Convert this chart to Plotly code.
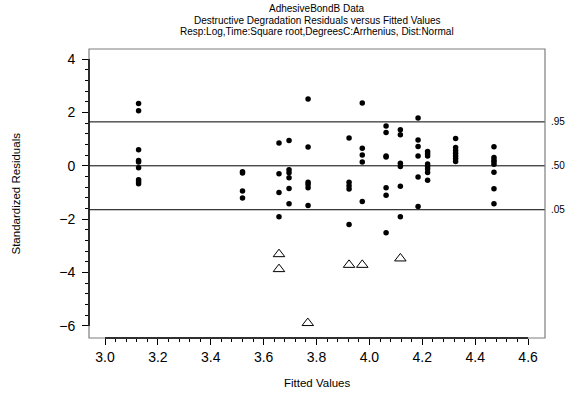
import plotly.graph_objects as go

# Exact (uncensored) residuals: fitted value, standardized residual
fit_exact = (
    [3.127] * 9 + [3.52] * 4 + [3.658] * 4 + [3.696] * 6 + [3.768] * 6 +
    [3.923] * 5 + [3.973] * 5 + [4.063] * 7 + [4.117] * 6 + [4.184] * 6 +
    [4.22] * 8 + [4.326] * 7 + [4.471] * 8
)
res_exact = [
    2.33, 2.06, 0.60, 0.20, 0.14, -0.07, -0.52, -0.60, -0.67,
    -0.22, -0.27, -0.94, -1.21,
    0.85, -0.30, -1.00, -1.91,
    0.95, -0.15, -0.26, -0.45, -0.85, -1.42,
    2.50, 0.70, -0.62, -0.70, -0.82, -1.49,
    1.04, -0.62, -0.75, -0.87, -2.20,
    2.35, 0.66, 0.40, 0.14, -1.34,
    1.49, 1.25, 0.37, 0.33, -0.82, -1.10, -2.51,
    1.35, 1.16, 0.10, -0.03, -0.77, -1.91,
    1.79, 0.97, 0.72, 0.37, -0.42, -1.52,
    0.54, 0.45, 0.37, 0.07, -0.03, -0.12, -0.25, -0.54,
    1.02, 0.69, 0.57, 0.47, 0.37, 0.27, 0.16,
    0.71, 0.31, 0.22, 0.15, 0.06, -0.24, -0.86, -1.42,
]

# Censored residuals (open triangles)
fit_cens = [3.658, 3.658, 3.767, 3.923, 3.973, 4.117]
res_cens = [-3.31, -3.87, -5.89, -3.71, -3.71, -3.47]

# Reference lines: normal quantiles
ref_levels = [1.645, 0.0, -1.645]
ref_labels = [".95", ".50", ".05"]

x_ticks = [3.0, 3.2, 3.4, 3.6, 3.8, 4.0, 4.2, 4.4, 4.6]
y_ticks = [-6, -4, -2, 0, 2, 4]
x_minor = [round(3.0 + 0.04 * i, 2) for i in range(41)]
y_minor = [round(-6 + 0.4 * i, 2) for i in range(26)]

title_lines = [
    "AdhesiveBondB Data",
    "Destructive Degradation Residuals versus Fitted Values",
    "Resp:Log,Time:Square root,DegreesC:Arrhenius, Dist:Normal",
]

FONT = "Liberation Sans, Arial, sans-serif"
X_RANGE = [2.9395, 4.664]
Y_RANGE = [-6.45, 4.375]

fig = go.Figure()
fig.add_trace(go.Scatter(
    x=fit_exact, y=res_exact, mode="markers",
    marker=dict(symbol="circle", size=5.5, color="black", line=dict(width=0)),
    showlegend=False, hoverinfo="x+y",
))
fig.add_trace(go.Scatter(
    x=fit_cens, y=res_cens, mode="markers",
    marker=dict(symbol="triangle-up-open", size=10, color="black", line=dict(width=1, color="black")),
    showlegend=False, hoverinfo="x+y",
))

shapes = []
# gray frame
shapes.append(dict(type="rect", xref="paper", yref="paper", x0=0, x1=1, y0=0, y1=1,
                   line=dict(color="#7f7f7f", width=1.2), layer="above"))
# black axis lines over the tick range
shapes.append(dict(type="line", xref="paper", yref="y", x0=0, x1=0, y0=y_ticks[0], y1=y_ticks[-1],
                   line=dict(color="black", width=1.5), layer="above"))
shapes.append(dict(type="line", xref="x", yref="paper", x0=x_ticks[0], x1=x_ticks[-1], y0=0, y1=0,
                   line=dict(color="black", width=1.5), layer="above"))
for lv in ref_levels:
    shapes.append(dict(type="line", xref="paper", yref="y", x0=0, x1=1, y0=lv, y1=lv,
                       line=dict(color="black", width=1), layer="below"))

annotations = []
for lv, lb in zip(ref_levels, ref_labels):
    annotations.append(dict(xref="paper", yref="y", x=1, y=lv, text=lb, showarrow=False,
                            xanchor="left", yanchor="middle", xshift=4,
                            font=dict(family=FONT, size=10, color="black")))
title_y_px = [8, 20, 31.5]
plot_top, plot_bottom = 49, 338
for line, py in zip(title_lines, title_y_px):
    annotations.append(dict(xref="paper", yref="paper", x=0.5,
                            y=(plot_bottom - py) / (plot_bottom - plot_top),
                            text=line, showarrow=False, xanchor="center", yanchor="middle",
                            font=dict(family=FONT, size=10, color="black")))
annotations.append(dict(xref="paper", yref="paper", x=0.5, y=0, yshift=-45, text="Fitted Values",
                        showarrow=False, xanchor="center", yanchor="middle",
                        font=dict(family=FONT, size=11.5, color="black")))
annotations.append(dict(xref="paper", yref="paper", x=0, y=0.5, xshift=-74, text="Standardized Residuals",
                        showarrow=False, xanchor="center", yanchor="middle", textangle=-90,
                        font=dict(family=FONT, size=11.5, color="black")))

fig.update_layout(
    width=566, height=395,
    margin=dict(l=89, r=21, t=49, b=57),
    paper_bgcolor="white", plot_bgcolor="white",
    shapes=shapes, annotations=annotations,
    font=dict(family=FONT, color="black"),
    xaxis=dict(range=X_RANGE, showgrid=False, zeroline=False, showline=False,
               tickmode="array", tickvals=x_ticks, ticktext=[f"{v:.1f}" for v in x_ticks],
               ticks="outside", ticklen=6, tickwidth=1, tickcolor="black",
               tickfont=dict(family=FONT, size=14, color="black"),
               minor=dict(tickmode="array", tickvals=x_minor, ticks="outside", ticklen=3,
                          tickwidth=1, tickcolor="black", showgrid=False)),
    yaxis=dict(range=Y_RANGE, showgrid=False, zeroline=False, showline=False,
               tickmode="array", tickvals=y_ticks,
               ticks="outside", ticklen=6, tickwidth=1, tickcolor="black",
               ticklabelstandoff=4,
               tickfont=dict(family=FONT, size=14, color="black"),
               minor=dict(tickmode="array", tickvals=y_minor, ticks="outside", ticklen=3,
                          tickwidth=1, tickcolor="black", showgrid=False)),
)

fig.write_html("out.html")
